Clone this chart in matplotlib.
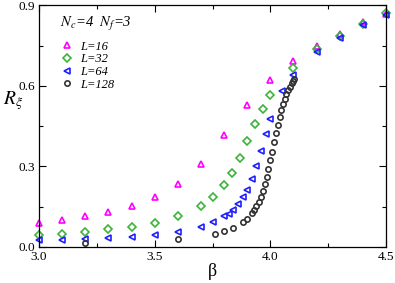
import numpy as np
import matplotlib
matplotlib.use("Agg")
import matplotlib.pyplot as plt
from matplotlib.ticker import MultipleLocator

plt.rcParams["font.family"] = ["Liberation Serif", "DejaVu Serif"]
plt.rcParams["mathtext.fontset"] = "stix"

# L=16
beta_16 = [3.0, 3.1, 3.2, 3.3, 3.4, 3.5, 3.6, 3.7, 3.8, 3.9, 4.0, 4.1, 4.2, 4.3, 4.4, 4.5]
r_16 = [0.090, 0.100, 0.113, 0.131, 0.152, 0.184, 0.233, 0.310, 0.418, 0.530,
        0.620, 0.692, 0.748, 0.793, 0.837, 0.868]

# L=32
beta_32 = [3.0, 3.1, 3.2, 3.3, 3.4, 3.5, 3.6, 3.7, 3.75, 3.8, 3.833, 3.867, 3.9,
           3.933, 3.967, 4.0, 4.1, 4.2, 4.3, 4.4, 4.5]
r_32 = [0.044, 0.049, 0.056, 0.065, 0.075, 0.090, 0.113, 0.152, 0.184, 0.231,
        0.275, 0.332, 0.393, 0.458, 0.515, 0.565, 0.668, 0.737, 0.786, 0.831, 0.871]

# L=64
beta_64 = [3.0, 3.1, 3.2, 3.3, 3.4, 3.5, 3.6, 3.7, 3.75, 3.8, 3.82, 3.84, 3.86,
           3.88, 3.9, 3.92, 3.94, 3.96, 3.98, 4.0, 4.05, 4.1, 4.2, 4.3, 4.4, 4.5]
r_64 = [0.024, 0.026, 0.029, 0.034, 0.037, 0.044, 0.056, 0.075, 0.092, 0.113,
        0.123, 0.138, 0.159, 0.184, 0.212, 0.253, 0.301, 0.358, 0.421, 0.475,
        0.581, 0.642, 0.726, 0.778, 0.828, 0.865]

# L=128
beta_128 = [3.2, 3.6, 3.76, 3.80, 3.84, 3.88, 3.90, 3.92, 3.93, 3.94, 3.95, 3.96,
            3.969, 3.977, 3.986, 3.991, 4.0, 4.009, 4.017, 4.025, 4.032, 4.04,
            4.047, 4.056, 4.063, 4.07, 4.077, 4.085, 4.092, 4.098, 4.104]
r_128 = [0.015, 0.029, 0.047, 0.057, 0.070, 0.092, 0.103, 0.125, 0.136, 0.152,
         0.167, 0.187, 0.207, 0.233, 0.260, 0.289, 0.322, 0.355, 0.392, 0.424,
         0.454, 0.485, 0.510, 0.531, 0.552, 0.570, 0.585, 0.597, 0.610, 0.619, 0.627]

fig = plt.figure(figsize=(3.95, 2.83), dpi=100)
ax = fig.add_axes([0.099, 0.128, 0.878, 0.853])

common = dict(ls="none", mfc="none", mew=1.2, clip_on=False)
ax.plot(beta_16, r_16, marker="^", ms=4.8, mec="#ff00ff", label="L=16", **common)
ax.plot(beta_32, r_32, marker="D", ms=3.6, mec="#3cb43c", label="L=32", **common)
ax.plot(beta_64, r_64, marker="<", ms=4.8, mec="#2020ff", label="L=64", **common)
ax.plot(beta_128, r_128, marker="o", ms=3.8, mec="#333333", label="L=128", **common)

ax.set_xlim(3.0, 4.5)
ax.set_ylim(0.0, 0.9)
ax.xaxis.set_major_locator(MultipleLocator(0.5))
ax.xaxis.set_minor_locator(MultipleLocator(0.25))
ax.yaxis.set_major_locator(MultipleLocator(0.3))
ax.yaxis.set_minor_locator(MultipleLocator(0.15))
ax.tick_params(which="both", direction="in", top=True, right=True, labelsize=9.5, pad=3)
ax.tick_params(which="major", length=5, width=0.8)
ax.tick_params(which="minor", length=3, width=0.8)
for s in ax.spines.values():
    s.set_linewidth(0.9)

ax.set_xlabel("β", fontsize=13, labelpad=0)
ax.set_ylabel(r"$R_\xi$", fontsize=14, rotation=0, va="center", ha="center")
ax.yaxis.set_label_coords(-0.075, 0.605)

ax.text(0.06, 0.921, r"$N_c$=4  $N_f$=3", transform=ax.transAxes, fontsize=10.5,
        style="italic", va="center")
ax.legend(loc="upper left", bbox_to_anchor=(0.035, 0.89), frameon=False,
          prop={"style": "italic", "size": 9}, handletextpad=0.4,
          labelspacing=0.05, borderpad=0.2, handlelength=1.2)

fig.savefig("out.png", dpi=100)
